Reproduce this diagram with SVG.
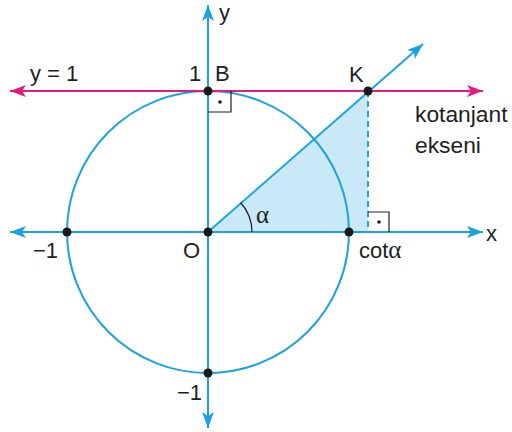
<svg xmlns="http://www.w3.org/2000/svg" width="512" height="432" viewBox="0 0 512 432">
<style>
.b{stroke:#1aa3e0;stroke-width:2;fill:none}
.m{stroke:#e6197f;stroke-width:2;fill:none}
.t{font-family:"Liberation Sans",Arial,sans-serif;font-size:22px;fill:#231f20}
.al{font-family:"Liberation Serif","Times New Roman",serif;font-size:25px}
.dot{fill:#1a1a1a}
.ra{stroke:#231f20;stroke-width:1.2;fill:none}
</style>
<defs>
<marker id="ab" viewBox="0 0 16 12" refX="16" refY="6" markerWidth="16" markerHeight="12" markerUnits="userSpaceOnUse" orient="auto-start-reverse">
<path d="M0,0 L16,6 L0,12 L4,6 z" fill="#1aa3e0"/>
</marker>
<marker id="am" viewBox="0 0 16 12" refX="16" refY="6" markerWidth="16" markerHeight="12" markerUnits="userSpaceOnUse" orient="auto-start-reverse">
<path d="M0,0 L16,6 L0,12 L4,6 z" fill="#e6197f"/>
</marker>
</defs>
<g id="triangle">
<polygon points="208,232 368,91 368,232" fill="#c9e8f8"/>
</g>
<g id="circle">
<circle cx="208" cy="232" r="141" class="b"/>
</g>
<g id="connectors">
<line x1="10" y1="232" x2="483" y2="232" class="b" marker-start="url(#ab)" marker-end="url(#ab)"/>
<line x1="208" y1="428" x2="208" y2="5" class="b" marker-start="url(#ab)" marker-end="url(#ab)"/>
<line x1="10" y1="91" x2="483" y2="91" class="m" marker-start="url(#am)" marker-end="url(#am)"/>
<line x1="208" y1="232" x2="423" y2="44" class="b" marker-end="url(#ab)"/>
<line x1="368" y1="91" x2="368" y2="232" class="b" stroke-dasharray="6,4"/>
<path d="M252,232 A44,44 0 0 0 240.5,202.5" fill="none" stroke="#231f20" stroke-width="1.2"/>
<path d="M368,212 H389 V232" class="ra"/>
<path d="M208,112 H231 V91" class="ra"/>
<circle cx="379" cy="222" r="1.8" class="dot"/>
<circle cx="220" cy="102" r="1.8" class="dot"/>
</g>
<g id="points">
<circle cx="208" cy="91" r="4.5" class="dot"/>
<circle cx="368" cy="91" r="4.5" class="dot"/>
<circle cx="67" cy="232" r="4.5" class="dot"/>
<circle cx="208" cy="232" r="4.5" class="dot"/>
<circle cx="349" cy="232" r="4.5" class="dot"/>
<circle cx="208" cy="373" r="4.5" class="dot"/>
</g>
<g id="labels">
<text class="t" x="219" y="20">y</text>
<text class="t" x="30" y="81">y = 1</text>
<text class="t" x="189" y="81">1</text>
<text class="t" x="215" y="81">B</text>
<text class="t" x="349" y="82">K</text>
<text class="t" x="415" y="122" style="font-size:22.8px">kotanjant</text>
<text class="t" x="415" y="153" style="font-size:22.8px">ekseni</text>
<text class="t al" x="256" y="223">α</text>
<text class="t" x="359" y="258">cot<tspan class="al">α</tspan></text>
<text class="t" x="33" y="258">−1</text>
<text class="t" x="183" y="258">O</text>
<text class="t" x="486" y="241">x</text>
<text class="t" x="177" y="400">−1</text>
</g>
</svg>
